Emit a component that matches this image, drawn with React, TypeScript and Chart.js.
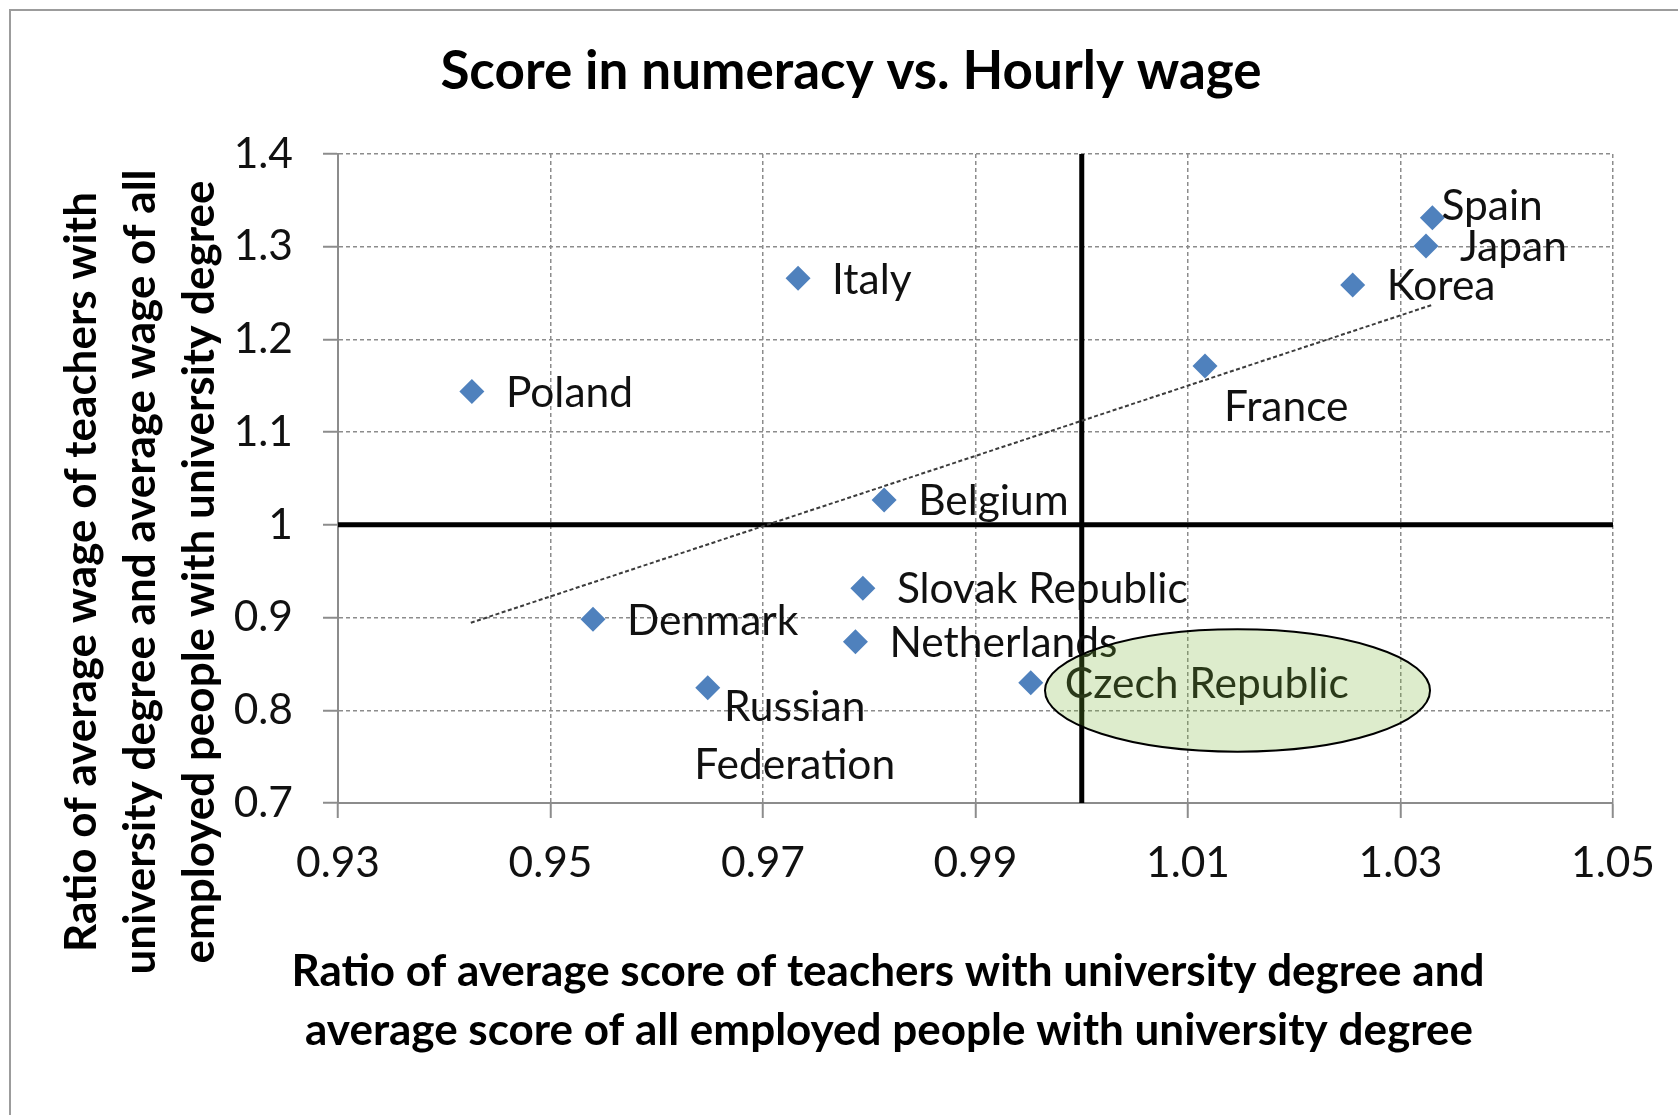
import React, { useEffect, useRef } from 'react';
import { Chart, registerables } from 'chart.js';

Chart.register(...registerables);

// ---- data ----
const countries = [
  'Spain', 'Japan', 'Korea', 'France', 'Italy', 'Poland', 'Belgium',
  'Slovak Republic', 'Netherlands', 'Denmark', 'Russian Federation', 'Czech Republic',
];
const scoreRatio = [1.033, 1.0324, 1.0255, 1.0116, 0.9733, 0.9426, 0.9814, 0.9794, 0.9787, 0.954, 0.9648, 0.9952];
const wageRatio = [1.3313, 1.3008, 1.2587, 1.1713, 1.2659, 1.1438, 1.0268, 0.9316, 0.874, 0.8981, 0.8244, 0.8297];

const trendScore = [0.9425, 1.0331];
const trendWage = [0.8944, 1.2377];

const xTickValues = [0.93, 0.95, 0.97, 0.99, 1.01, 1.03, 1.05];
const xTickLabels = ['0.93', '0.95', '0.97', '0.99', '1.01', '1.03', '1.05'];
const yTickValues = [0.7, 0.8, 0.9, 1.0, 1.1, 1.2, 1.3, 1.4];
const yTickLabels = ['0.7', '0.8', '0.9', '1', '1.1', '1.2', '1.3', '1.4'];

const referenceScore = 1;
const referenceWage = 1;

const highlightCenterScore = 1.01466;
const highlightCenterWage = 0.8213;
const highlightRadiusScore = 0.01812;
const highlightRadiusWage = 0.066;

const chartTitle = 'Score in numeracy vs. Hourly wage';
const xTitleLines = [
  'Ratio of average score of teachers with university degree and',
  'average score of all employed people with university degree',
];
const yTitleLines = [
  'Ratio of average wage of teachers with',
  'university degree and average wage of all',
  'employed people with university degree',
];

// ---- layout (label placement relative to the marker, in px) ----
type Placement = { dx: number; dy: number; align?: CanvasTextAlign; lines?: string[]; gap?: number };
const defaultPlacement: Placement = { dx: 34, dy: 0 };
const labelPlacement: Record<string, Placement> = {
  Spain: { dx: 9, dy: -13 },
  France: { dx: 19, dy: 39.5 },
  'Russian Federation': { dx: 87, dy: 18.5, align: 'center', lines: ['Russian', 'Federation'], gap: 58 },
};

const FONT = 'Lato, "Open Sans", sans-serif';
const LABEL_SIZE = 42.5;
const CAP = 0.7165;

const decorPlugin = {
  id: 'decor',
  beforeDraw(chart: any) {
    const ctx = chart.ctx;
    ctx.save();
    ctx.fillStyle = '#ffffff';
    ctx.fillRect(0, 0, chart.width, chart.height);
    ctx.strokeStyle = '#9c9c9c';
    ctx.lineWidth = 2;
    ctx.strokeRect(10, 10, chart.width + 50, chart.height + 50);
    ctx.restore();
  },
  afterDatasetsDraw(chart: any) {
    const ctx = chart.ctx;
    const meta = chart.getDatasetMeta(0);
    ctx.save();
    ctx.font = `${LABEL_SIZE}px ${FONT}`;
    ctx.fillStyle = '#111111';
    ctx.textBaseline = 'alphabetic';
    const capHalf = (CAP * LABEL_SIZE) / 2;
    countries.forEach((name, i) => {
      const el = meta.data[i];
      const p = labelPlacement[name] || defaultPlacement;
      ctx.textAlign = p.align || 'left';
      const lines = p.lines || [name];
      lines.forEach((ln, k) => {
        ctx.fillText(ln, el.x + p.dx, el.y + p.dy + k * (p.gap || 0) + capHalf);
      });
    });
    // highlight ellipse
    const xs = chart.scales.x;
    const ys = chart.scales.y;
    const cx = xs.getPixelForValue(highlightCenterScore);
    const cy = ys.getPixelForValue(highlightCenterWage);
    const rx = xs.getPixelForValue(highlightCenterScore + highlightRadiusScore) - cx;
    const ry = cy - ys.getPixelForValue(highlightCenterWage + highlightRadiusWage);
    ctx.beginPath();
    ctx.ellipse(cx, cy, rx, ry, 0, 0, Math.PI * 2);
    ctx.fillStyle = 'rgba(120, 180, 50, 0.25)';
    ctx.fill();
    ctx.lineWidth = 2;
    ctx.strokeStyle = '#000000';
    ctx.stroke();
    ctx.restore();
  },
  afterDraw(chart: any) {
    const ctx = chart.ctx;
    ctx.save();
    ctx.fillStyle = '#000000';
    ctx.textBaseline = 'alphabetic';
    ctx.textAlign = 'center';
    ctx.font = `bold 53px ${FONT}`;
    ctx.fillText(chartTitle, 851, 89);
    ctx.font = `bold 44px ${FONT}`;
    ctx.fillText(xTitleLines[0], 888, 986);
    ctx.fillText(xTitleLines[1], 889, 1045);
    const yCenters = [82, 141, 200];
    ctx.textBaseline = 'middle';
    yTitleLines.forEach((ln, k) => {
      ctx.save();
      ctx.translate(yCenters[k], 572);
      ctx.rotate(-Math.PI / 2);
      ctx.fillText(ln, 0, 0);
      ctx.restore();
    });
    ctx.restore();
  },
};

export default function App() {
  const ref = useRef<HTMLCanvasElement>(null);
  useEffect(() => {
    document.body.style.margin = '0';
    document.body.style.overflow = 'hidden';
    const canvas = ref.current!;
    const gridColor = '#8c8c8c';
    const chart = new Chart(canvas, {
      type: 'scatter',
      data: {
        datasets: [
          {
            label: 'Countries',
            data: countries.map((_, i) => ({ x: scoreRatio[i], y: wageRatio[i] })),
            pointStyle: 'rectRot',
            pointRadius: 12.5,
            pointHoverRadius: 12.5,
            backgroundColor: '#4F81BD',
            borderColor: '#4F81BD',
            borderWidth: 0,
            order: 0,
          },
          {
            label: 'Trend',
            data: trendScore.map((x, i) => ({ x, y: trendWage[i] })),
            showLine: true,
            borderColor: '#3c3c3c',
            borderWidth: 2,
            borderDash: [4, 2.5],
            pointRadius: 0,
            order: 1,
          },
          {
            label: 'vref',
            data: [
              { x: referenceScore, y: yTickValues[0] },
              { x: referenceScore, y: yTickValues[yTickValues.length - 1] },
            ],
            showLine: true,
            borderColor: '#000000',
            borderWidth: 5,
            pointRadius: 0,
            order: 2,
          },
          {
            label: 'href',
            data: [
              { x: xTickValues[0], y: referenceWage },
              { x: xTickValues[xTickValues.length - 1], y: referenceWage },
            ],
            showLine: true,
            borderColor: '#000000',
            borderWidth: 5,
            pointRadius: 0,
            order: 2,
          },
        ],
      },
      options: {
        responsive: false,
        animation: false,
        devicePixelRatio: 1,
        events: [],
        layout: { padding: { top: 154, right: 65, left: 0, bottom: 0 } },
        plugins: {
          legend: { display: false },
          title: { display: false },
          tooltip: { enabled: false },
        },
        scales: {
          x: {
            type: 'linear',
            min: xTickValues[0],
            max: xTickValues[xTickValues.length - 1],
            afterBuildTicks: (s: any) => {
              s.ticks = xTickValues.map((v) => ({ value: v }));
            },
            afterFit: (s: any) => {
              s.height = 312;
            },
            ticks: {
              callback: (_v: any, i: number) => xTickLabels[i],
              font: { family: FONT, size: 42.5 },
              color: '#111111',
              padding: 20,
              maxRotation: 0,
              autoSkip: false,
            },
            grid: { color: gridColor, lineWidth: 1.5, tickLength: 15, tickColor: gridColor, tickWidth: 2 },
            border: { display: true, color: gridColor, width: 2, dash: [4, 3] },
          },
          y: {
            type: 'linear',
            min: yTickValues[0],
            max: yTickValues[yTickValues.length - 1],
            afterBuildTicks: (s: any) => {
              s.ticks = yTickValues.map((v) => ({ value: v }));
            },
            afterFit: (s: any) => {
              s.width = 338;
            },
            ticks: {
              callback: (_v: any, i: number) => yTickLabels[i],
              font: { family: FONT, size: 42.5 },
              color: '#111111',
              padding: 30,
              autoSkip: false,
            },
            grid: { color: gridColor, lineWidth: 1.5, tickLength: 15, tickColor: gridColor, tickWidth: 2 },
            border: { display: true, color: gridColor, width: 2, dash: [4, 3] },
          },
        },
      } as any,
      plugins: [decorPlugin],
    });
    return () => chart.destroy();
  }, []);
  return <canvas ref={ref} width={1678} height={1115} style={{ display: 'block' }} />;
}
